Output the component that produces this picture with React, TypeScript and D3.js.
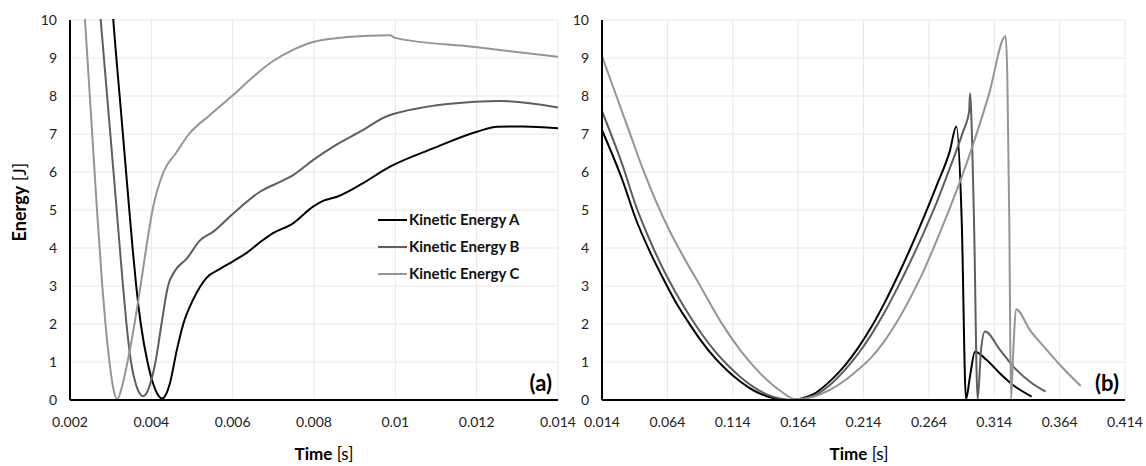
import React from "react";
import * as d3 from "d3";

// ---------- data ----------
const seriesNames = ["Kinetic Energy A", "Kinetic Energy B", "Kinetic Energy C"];
const seriesColors = ["#000000", "#5e5e5e", "#959595"];

const yTicks = [0, 1, 2, 3, 4, 5, 6, 7, 8, 9, 10];

const leftXTicks = [0.002, 0.004, 0.006, 0.008, 0.01, 0.012, 0.014];
const leftXLabels = ["0.002", "0.004", "0.006", "0.008", "0.01", "0.012", "0.014"];
const rightXTicks = [0.014, 0.064, 0.114, 0.164, 0.214, 0.264, 0.314, 0.364, 0.414];
const rightXLabels = ["0.014", "0.064", "0.114", "0.164", "0.214", "0.264", "0.314", "0.364", "0.414"];

// panel (a): [time s, energy J]
const panelA_A: [number, number][] = [
  [0.002934, 12], [0.003065, 10], [0.003261, 7.5], [0.003458, 5.0], [0.003539, 4.0],
  [0.003628, 3.0], [0.003741, 2.0], [0.003906, 1.0], [0.004053, 0.4], [0.004152, 0.15],
  [0.00427, 0.04], [0.004361, 0.15], [0.004459, 0.45], [0.004624, 1.3], [0.004786, 2.0],
  [0.005032, 2.65], [0.005361, 3.22], [0.005689, 3.45], [0.006008, 3.65], [0.006352, 3.88],
  [0.006672, 4.15], [0.006992, 4.39], [0.007484, 4.65], [0.007976, 5.09], [0.008222, 5.24],
  [0.008566, 5.35], [0.009131, 5.66], [0.009869, 6.14], [0.010926, 6.62], [0.012008, 7.06],
  [0.0125, 7.19], [0.013139, 7.2], [0.014, 7.15],
];
const panelA_B: [number, number][] = [
  [0.00259, 12], [0.002755, 10], [0.002952, 7.5], [0.003148, 5.0], [0.003225, 4.0],
  [0.003303, 3.0], [0.003389, 2.0], [0.0035, 1.0], [0.003623, 0.4], [0.003709, 0.18],
  [0.003802, 0.1], [0.003893, 0.2], [0.003979, 0.45], [0.004102, 1.0], [0.00425, 2.0],
  [0.00441, 3.0], [0.004582, 3.4], [0.00487, 3.72], [0.005197, 4.2], [0.005524, 4.43],
  [0.006016, 4.91], [0.006672, 5.48], [0.007164, 5.74], [0.007491, 5.92], [0.007983, 6.32],
  [0.008475, 6.67], [0.009131, 7.06], [0.009869, 7.5], [0.011959, 7.85], [0.012574, 7.87],
  [0.014, 7.7],
];
const panelA_C: [number, number][] = [
  [0.002258, 12], [0.002369, 10], [0.002664, 5], [0.002794, 3], [0.002873, 2], [0.002971, 1],
  [0.003065, 0.3], [0.003163, 0.02], [0.003266, 0.3], [0.003414, 1], [0.003586, 2],
  [0.003734, 3], [0.003874, 4], [0.004029, 5], [0.004299, 6], [0.004607, 6.5], [0.004926, 7],
  [0.005443, 7.5], [0.005984, 8], [0.0065, 8.5], [0.006967, 8.9], [0.007459, 9.2],
  [0.007976, 9.42], [0.008811, 9.55], [0.009869, 9.6], [0.009992, 9.53], [0.011959, 9.29],
  [0.014, 9.03],
];

// panel (b): [time s, energy J]
const panelB_A: [number, number][] = [
  [0.014, 7.1], [0.03, 5.75], [0.04, 4.75], [0.05, 3.95], [0.06, 3.25], [0.07, 2.6],
  [0.08, 2.05], [0.09, 1.55], [0.1, 1.12], [0.11, 0.77], [0.12, 0.48], [0.13, 0.25],
  [0.14, 0.1], [0.15, 0.02], [0.157, 0.0], [0.165, 0.03], [0.175, 0.14], [0.19, 0.55],
  [0.2, 0.92], [0.21, 1.38], [0.22, 1.92], [0.23, 2.55], [0.24, 3.25], [0.25, 4.0],
  [0.26, 4.8], [0.27, 5.65], [0.28, 6.55], [0.285, 7.2], [0.2891, 4.74], [0.2924, 0.02],
  [0.2954, 0.61], [0.2993, 1.27], [0.3082, 1.05], [0.3184, 0.7], [0.3286, 0.39], [0.3426, 0.09],
];
const panelB_B: [number, number][] = [
  [0.014, 7.6], [0.03, 6.15], [0.04, 5.1], [0.05, 4.25], [0.06, 3.5], [0.07, 2.85],
  [0.08, 2.27], [0.09, 1.75], [0.1, 1.3], [0.11, 0.92], [0.12, 0.6], [0.13, 0.34],
  [0.14, 0.15], [0.15, 0.04], [0.159, 0.0], [0.167, 0.03], [0.177, 0.13], [0.19, 0.45],
  [0.2, 0.8], [0.21, 1.22], [0.22, 1.72], [0.23, 2.3], [0.24, 2.95], [0.25, 3.65],
  [0.26, 4.4], [0.27, 5.2], [0.28, 6.1], [0.29, 7.05], [0.2948, 7.6], [0.2955, 8.07],
  [0.2962, 7.7], [0.2985, 4.74], [0.3013, 0.02], [0.3039, 1.32], [0.3069, 1.8],
  [0.3184, 1.32], [0.3286, 0.88], [0.3413, 0.48], [0.3533, 0.22],
];
const panelB_C: [number, number][] = [
  [0.014, 9.05], [0.025, 8.0], [0.035, 7.05], [0.045, 6.1], [0.055, 5.25], [0.065, 4.5],
  [0.075, 3.85], [0.09, 2.95], [0.105, 2.05], [0.12, 1.3], [0.135, 0.7], [0.15, 0.25],
  [0.162, 0.02], [0.175, 0.08], [0.19, 0.3], [0.2, 0.52], [0.21, 0.8], [0.22, 1.12],
  [0.23, 1.55], [0.24, 2.08], [0.25, 2.7], [0.26, 3.4], [0.27, 4.2], [0.28, 5.05],
  [0.29, 5.95], [0.3, 6.95], [0.31, 8.05], [0.3227, 9.58], [0.324, 8.5], [0.3255, 4.74],
  [0.3268, 0.02], [0.3286, 1.32], [0.3306, 2.39], [0.3413, 1.84], [0.3541, 1.32],
  [0.3668, 0.83], [0.3801, 0.37],
];

const FONT = "Lato, 'Open Sans', sans-serif";

type PanelProps = {
  id: string;
  x0: number;
  x1: number;
  domain: [number, number];
  ticks: number[];
  labels: string[];
  series: [number, number][][];
  tag: string;
  titleX: number;
};

const TOP = 20;
const BOTTOM = 400;

function Panel({ id, x0, x1, domain, ticks, labels, series, tag, titleX }: PanelProps) {
  const x = d3.scaleLinear().domain(domain).range([x0, x1]);
  const y = d3.scaleLinear().domain([0, 10]).range([BOTTOM, TOP]);
  const line = d3
    .line<[number, number]>()
    .x((d) => x(d[0]))
    .y((d) => y(d[1]))
    .curve(d3.curveMonotoneX);
  return (
    <g>
      <defs>
        <clipPath id={id}>
          <rect x={x0} y={TOP - 1} width={x1 - x0} height={BOTTOM - TOP + 2} />
        </clipPath>
      </defs>
      {yTicks.map((t) => (
        <line key={"gy" + t} x1={x0} x2={x1} y1={y(t)} y2={y(t)} stroke="#e8e8e8" strokeWidth={1} />
      ))}
      {ticks.map((t) => (
        <line key={"gx" + t} x1={x(t)} x2={x(t)} y1={TOP} y2={BOTTOM} stroke="#e8e8e8" strokeWidth={1} />
      ))}
      <g clipPath={`url(#${id})`}>
        {series.map((s, i) => (
          <path
            key={i}
            d={line(s) || ""}
            fill="none"
            stroke={seriesColors[i]}
            strokeWidth={2}
            strokeLinejoin="round"
          />
        ))}
      </g>
      <line x1={x0} x2={x0} y1={TOP} y2={BOTTOM} stroke="#000" strokeWidth={2} />
      <line x1={x0} x2={x1} y1={BOTTOM} y2={BOTTOM} stroke="#000" strokeWidth={2} />
      {yTicks.map((t) => (
        <text
          key={"ly" + t}
          x={x0 - 13}
          y={y(t)}
          dy="0.35em"
          textAnchor="end"
          fontFamily={FONT}
          fontSize={14}
          fill="#222"
        >
          {t}
        </text>
      ))}
      {ticks.map((t, i) => (
        <text
          key={"lx" + t}
          x={x(t)}
          y={422}
          dy="0.35em"
          textAnchor="middle"
          fontFamily={FONT}
          fontSize={14}
          fill="#222"
        >
          {labels[i]}
        </text>
      ))}
      <text
        x={titleX}
        y={454}
        dy="0.35em"
        textAnchor="middle"
        fontFamily={FONT}
        fontSize={17}
        fill="#000"
      >
        <tspan fontWeight="bold">Time</tspan>
        <tspan> [s]</tspan>
      </text>
      <text
        x={x1 - 6}
        y={383}
        dy="0.35em"
        textAnchor="end"
        fontFamily={FONT}
        fontSize={22}
        fontWeight="bold"
        fill="#000"
      >
        {tag}
      </text>
    </g>
  );
}

export default function App() {
  const legendY = [220, 247, 274];
  return (
    <svg
      width={1146}
      height={466}
      style={{ position: "absolute", left: 0, top: 0, background: "#fff" }}
    >
      <rect x={0} y={0} width={1146} height={466} fill="#fff" />
      <Panel
        id="clipA"
        x0={70}
        x1={558}
        domain={[0.002, 0.014]}
        ticks={leftXTicks}
        labels={leftXLabels}
        series={[panelA_A, panelA_B, panelA_C]}
        tag="(a)"
        titleX={324}
      />
      <Panel
        id="clipB"
        x0={602}
        x1={1125}
        domain={[0.014, 0.414]}
        ticks={rightXTicks}
        labels={rightXLabels}
        series={[panelB_A, panelB_B, panelB_C]}
        tag="(b)"
        titleX={859}
      />
      <text
        transform="translate(20,202) rotate(-90)"
        textAnchor="middle"
        dy="0.35em"
        fontFamily={FONT}
        fontSize={18}
        fill="#000"
      >
        <tspan fontWeight="bold">Energy</tspan>
        <tspan> [J]</tspan>
      </text>
      {seriesNames.map((n, i) => (
        <g key={n}>
          <line x1={378} x2={407} y1={legendY[i]} y2={legendY[i]} stroke={seriesColors[i]} strokeWidth={2} />
          <text
            x={409}
            y={legendY[i]}
            dy="0.35em"
            fontFamily={FONT}
            fontSize={15}
            fontWeight="bold"
            fill="#111"
          >
            {n}
          </text>
        </g>
      ))}
    </svg>
  );
}
